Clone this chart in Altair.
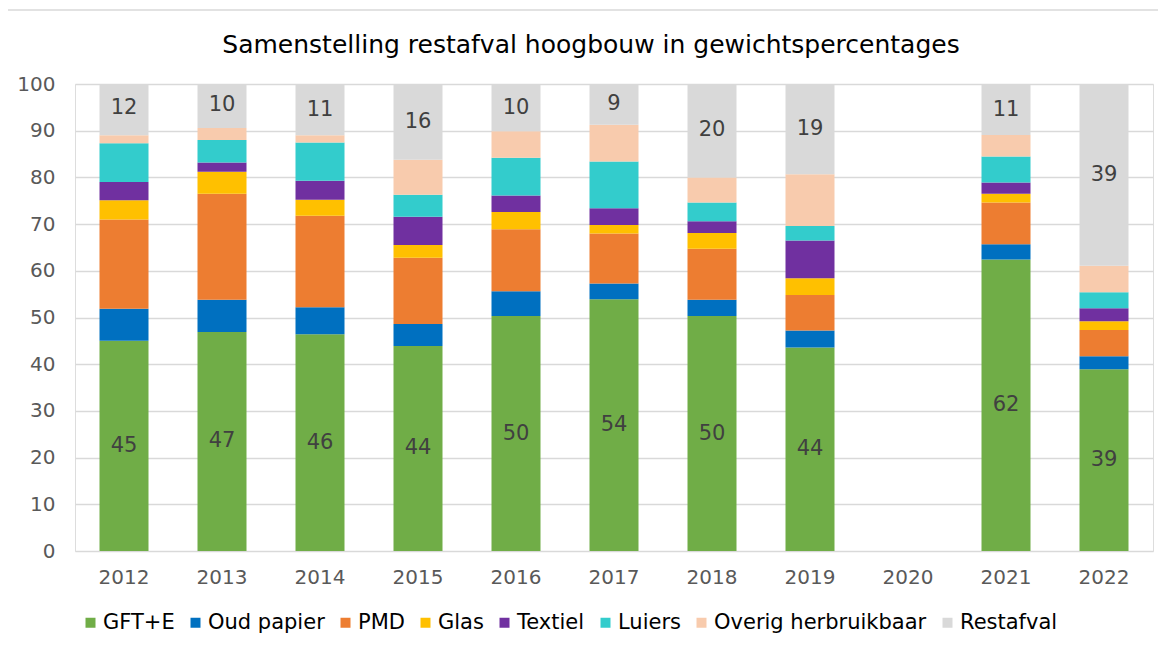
import altair as alt
import pandas as pd

years = ["2012", "2013", "2014", "2015", "2016", "2017", "2018", "2019", "2020", "2021", "2022"]
series = ["GFT+E", "Oud papier", "PMD", "Glas", "Textiel", "Luiers", "Overig herbruikbaar", "Restafval"]
colors = ["#70AD47", "#0070C0", "#ED7D31", "#FFC000", "#7030A0", "#33CCCC", "#F8CBAD", "#D9D9D9"]

gft = [45.0, 46.9, 46.4, 43.9, 50.3, 53.9, 50.3, 43.6, None, 62.4, 38.9]
oud_papier = [6.9, 6.9, 5.8, 4.7, 5.3, 3.4, 3.5, 3.6, None, 3.3, 2.8]
pmd = [19.1, 22.7, 19.6, 14.2, 13.3, 10.7, 10.9, 7.6, None, 8.9, 5.6]
glas = [4.1, 4.7, 3.4, 2.7, 3.7, 1.8, 3.4, 3.6, None, 1.9, 1.9]
textiel = [3.9, 2.0, 4.1, 6.1, 3.5, 3.6, 2.5, 8.1, None, 2.4, 2.8]
luiers = [8.3, 4.8, 8.2, 4.7, 8.1, 10.0, 4.0, 3.1, None, 5.6, 3.4]
overig = [1.7, 2.6, 1.5, 7.5, 5.7, 7.9, 5.4, 11.1, None, 4.6, 5.7]
restafval = [11.6, 9.6, 11.0, 16.2, 10.1, 8.8, 20.1, 19.2, None, 10.7, 38.9]

all_vals = [gft, oud_papier, pmd, glas, textiel, luiers, overig, restafval]

rows = []
for i, jaar in enumerate(years):
    for k, (naam, vals) in enumerate(zip(series, all_vals)):
        v = vals[i]
        if v is None:
            continue
        rows.append({"jaar": jaar, "reeks": naam, "ord": k, "waarde": v})
df = pd.DataFrame(rows)

FONT = "DejaVu Sans"

x_enc = alt.X(
    "jaar:N",
    scale=alt.Scale(domain=years, paddingInner=0.5, paddingOuter=0.25),
    axis=alt.Axis(title=None, labelAngle=0, domain=False, ticks=False, tickSize=0,
                  labelPadding=16, labelFontSize=20, labelColor="#595959",
                  labelFont=FONT, grid=False),
)

base = alt.Chart(df).transform_stack(
    stack="waarde", groupby=["jaar"], as_=["y0", "y1"],
    sort=[alt.SortField("ord", order="ascending")],
)

bars = base.mark_bar(clip=True).encode(
    x=x_enc,
    y=alt.Y("y0:Q", scale=alt.Scale(domain=[0, 100], nice=False),
            axis=alt.Axis(title=None, values=list(range(0, 101, 10)), domain=False,
                          ticks=False, tickSize=0, labelPadding=20, labelFontSize=20,
                          labelColor="#595959", labelFont=FONT, grid=True,
                          gridColor="#D9D9D9", gridWidth=1.3)),
    y2="y1:Q",
    color=alt.Color("reeks:N", scale=alt.Scale(domain=series, range=colors),
                    legend=alt.Legend(title=None, orient="none", legendX=5, legendY=528,
                                      direction="horizontal", columns=8,
                                      symbolType="square", symbolSize=100,
                                      symbolStrokeWidth=0, labelFontSize=21,
                                      labelFont=FONT, labelColor="#000000",
                                      labelLimit=0,
                                      labelOffset=2, columnPadding=10, padding=0)),
    order=alt.Order("ord:Q", sort="ascending"),
)

labels = base.transform_filter(
    alt.FieldOneOfPredicate(field="reeks", oneOf=["GFT+E", "Restafval"])
).transform_calculate(
    mid="(datum.y0 + datum.y1) / 2"
).mark_text(font=FONT, fontSize=21, color="#404040", baseline="middle", align="center").encode(
    x=alt.X("jaar:N"),
    y=alt.Y("mid:Q"),
    text=alt.Text("waarde:Q", format=".0f"),
)

border = alt.Chart(alt.Data(values=[{"a": 1}])).mark_rect(
    fillOpacity=0, stroke="#D9D9D9", strokeWidth=1.5
).encode(
    x=alt.value(-68), x2=alt.value(1100), y=alt.value(-74), y2=alt.value(580)
)

chart = alt.layer(border, bars, labels).properties(
    width=1078,
    height=467,
    autosize=alt.AutoSizeParams(type="none"),
    padding={"left": 67, "top": 76, "right": 5, "bottom": 87},
    title=alt.TitleParams("Samenstelling restafval hoogbouw in gewichtspercentages",
                          fontSize=25, font=FONT, fontWeight="normal", color="#000000",
                          baseline="alphabetic", offset=-69, dx=-23, anchor="middle"),
).configure_view(stroke=None).configure(background="white")

chart.save("out.html", embed_options={"renderer": "svg", "actions": False})
